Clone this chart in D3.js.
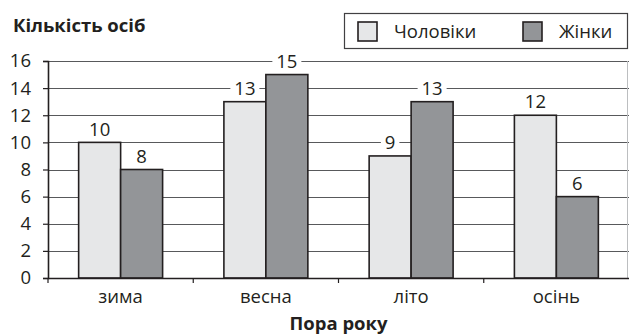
<!DOCTYPE html>
<html>
<head>
<meta charset="utf-8">
<script src="https://cdn.jsdelivr.net/npm/d3@7"></script>
<style>
  html, body { margin: 0; padding: 0; background: #fff; }
  svg { display: block; font-family: "Open Sans", "Noto Sans", sans-serif; }
</style>
</head>
<body>
<svg id="chart" width="629" height="334"></svg>
<script>
// Кількість осіб за порами року
const seasons = ["зима", "весна", "літо", "осінь"];
const seriesNames = ["Чоловіки", "Жінки"];
const men = [10, 13, 9, 12];
const women = [8, 15, 13, 6];
const yTicks = [0, 2, 4, 6, 8, 10, 12, 14, 16];
const yTitle = "Кількість осіб";
const xTitle = "Пора року";

const colors = { "Чоловіки": "#e6e7e8", "Жінки": "#939598" };
const ink = "#231f20";
const fs = 18.5;

const svg = d3.select("#chart");
const W = 629, H = 334;
const m = { left: 48, right: 0, top: 61, bottom: 56 };
const plotW = W - m.left - m.right;
const plotH = H - m.top - m.bottom;

const rows = seasons.map((s, i) => ({ season: s, values: [men[i], women[i]] }));

const x0 = d3.scaleBand().domain(seasons).range([m.left, m.left + plotW]).padding(0);
const x1 = d3.scaleBand().domain(seriesNames).range([0, x0.bandwidth()])
  .paddingInner(0).paddingOuter(0.73);
const y = d3.scaleLinear().domain([0, 16]).range([m.top + plotH, m.top]);

// horizontal grid
svg.append("g")
  .selectAll("line")
  .data(yTicks.filter(t => t > 0))
  .join("line")
  .attr("x1", m.left).attr("x2", m.left + plotW)
  .attr("y1", d => Math.round(y(d)) + 0.5).attr("y2", d => Math.round(y(d)) + 0.5)
  .attr("stroke", "#58595b").attr("stroke-width", 1);

// right border of the plot area
svg.append("line")
  .attr("x1", W - 1.5).attr("x2", W - 1.5)
  .attr("y1", y(16)).attr("y2", y(0))
  .attr("stroke", "#bcbec0").attr("stroke-width", 1);

// bars
const groups = svg.append("g")
  .selectAll("g")
  .data(rows)
  .join("g")
  .attr("transform", d => `translate(${x0(d.season)},0)`);

groups.selectAll("rect")
  .data(d => d.values.map((v, i) => ({ key: seriesNames[i], value: v })))
  .join("rect")
  .attr("x", d => x1(d.key))
  .attr("width", x1.bandwidth())
  .attr("y", d => y(d.value))
  .attr("height", d => y(0) - y(d.value))
  .attr("fill", d => colors[d.key])
  .attr("stroke", ink)
  .attr("stroke-width", 1.6);

// value labels with white background
const labels = groups.selectAll("g.lbl")
  .data(d => d.values.map((v, i) => ({ key: seriesNames[i], value: v })))
  .join("g")
  .attr("class", "lbl")
  .attr("transform", d => `translate(${x1(d.key) + x1.bandwidth() / 2},${y(d.value) - 13.5})`);

labels.append("rect")
  .attr("x", d => -(String(d.value).length * 10.5 + 8) / 2)
  .attr("width", d => String(d.value).length * 10.5 + 8)
  .attr("y", -8).attr("height", 16)
  .attr("fill", "#fff");

labels.append("text")
  .attr("text-anchor", "middle")
  .attr("dy", "0.36em")
  .attr("font-size", fs)
  .attr("fill", ink)
  .text(d => d.value);

// y axis
const yAxis = svg.append("g")
  .attr("transform", `translate(${m.left},0)`)
  .call(d3.axisLeft(y).tickValues(yTicks).tickSize(5).tickPadding(12));
yAxis.select(".domain").attr("stroke", ink).attr("stroke-width", 1.6);
yAxis.selectAll(".tick line").attr("stroke", ink).attr("stroke-width", 1.2);
yAxis.selectAll(".tick text")
  .attr("font-family", "'Open Sans', sans-serif")
  .attr("font-size", fs).attr("fill", ink);

// x axis
const xAxis = svg.append("g")
  .attr("transform", `translate(0,${y(0)})`)
  .call(d3.axisBottom(x0).tickSize(0).tickPadding(12));
xAxis.select(".domain").attr("stroke", ink).attr("stroke-width", 1.6);
xAxis.selectAll(".tick text")
  .attr("font-family", "'Open Sans', sans-serif")
  .attr("font-size", fs).attr("fill", ink);

// category separators below the x axis
svg.append("g")
  .selectAll("line")
  .data(seasons.slice(1).map(s => x0(s)).concat([m.left]))
  .join("line")
  .attr("x1", d => d).attr("x2", d => d)
  .attr("y1", y(0)).attr("y2", y(0) + 5)
  .attr("stroke", ink).attr("stroke-width", 1.2);

// titles
svg.append("text")
  .attr("x", 13).attr("y", 32)
  .attr("font-size", 18.5).attr("font-weight", 700).attr("fill", ink)
  .text(yTitle);

svg.append("text")
  .attr("x", m.left + plotW / 2).attr("y", 330)
  .attr("text-anchor", "middle")
  .attr("font-size", 18.5).attr("font-weight", 700).attr("fill", ink)
  .text(xTitle);

// legend
const legend = svg.append("g");
legend.append("rect")
  .attr("x", 344.5).attr("y", 13.5).attr("width", 283).attr("height", 35)
  .attr("fill", "#fff").attr("stroke", "#414042").attr("stroke-width", 1.2);

const legendX = [358, 523];
const item = legend.selectAll("g.item")
  .data(seriesNames)
  .join("g")
  .attr("class", "item")
  .attr("transform", (d, i) => `translate(${legendX[i]},22)`);
item.append("rect")
  .attr("width", 19).attr("height", 19)
  .attr("fill", d => colors[d])
  .attr("stroke", ink).attr("stroke-width", 1.6);
item.append("text")
  .attr("x", 36).attr("y", 9.5).attr("dy", "0.36em")
  .attr("font-size", fs).attr("fill", ink)
  .text(d => d);
</script>
</body>
</html>
